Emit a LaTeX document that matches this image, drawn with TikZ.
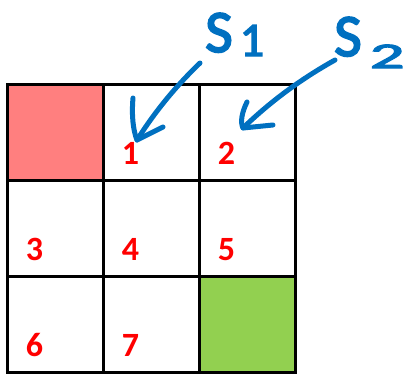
\documentclass[tikz,border=0pt]{standalone}
\usepackage{fontspec}
\setmainfont{Carlito}
\newfontfamily\handfont[FakeBold=3]{Carlito}
\definecolor{cellred}{RGB}{255,127,127}
\definecolor{cellgreen}{RGB}{146,208,80}
\definecolor{ink}{RGB}{0,112,192}

\begin{document}
\begin{tikzpicture}[x=1pt, y=-1pt,
  cell/.style={draw, line width=3pt, minimum size=96pt, inner sep=0pt},
  num/.style={text=red, font=\fontsize{34}{34}\selectfont\bfseries, inner sep=0pt},
  hand/.style={text=ink, font=\handfont\fontsize{60}{60}\selectfont, inner sep=0pt, anchor=base west},
  ink line/.style={draw=ink, line width=5pt, line cap=round, line join=round}]
\useasboundingbox (0,0) rectangle (410,375);
% grid
\node[cell, fill=cellred] (c0) at (55.5,132.5) {};
\node[cell] (c1) at (151.5,132.5) {};
\node[cell] (c2) at (247.5,132.5) {};
\node[cell] (c3) at (55.5,228.5) {};
\node[cell] (c4) at (151.5,228.5) {};
\node[cell] (c5) at (247.5,228.5) {};
\node[cell] (c6) at (55.5,324.5) {};
\node[cell] (c7) at (151.5,324.5) {};
\node[cell, fill=cellgreen] (c8) at (247.5,324.5) {};
% numbers
\node[num] (n1) at (130.5,153.5) {1};
\node[num] (n2) at (226.5,153.5) {2};
\node[num] (n3) at (34.5,249.5) {3};
\node[num] (n4) at (130.5,249.5) {4};
\node[num] (n5) at (226.5,249.5) {5};
\node[num] (n6) at (34.5,345.5) {6};
\node[num] (n7) at (130.5,345.5) {7};
% handwritten labels
\node[hand] (s1) at (205,52) {S\hspace{7pt}\raisebox{-4pt}{\fontsize{48}{48}\selectfont 1}};
\node[hand] (s2) at (334,56) {S\hspace{8pt}\raisebox{-12pt}{\scalebox{1.9}[1]{\fontsize{36}{36}\selectfont 2}}};
\coordinate (t1) at (200,63);
\coordinate (h1) at (137,140);
\coordinate (t2) at (335,60);
\coordinate (h2) at (243,128);
\draw[ink line] (t1) .. controls (176,86) and (155,111.5) .. (h1);
\draw[ink line] ([shift={(-4,-42)}]h1) .. controls ([shift={(-5.5,-25)}]h1) and ([shift={(-4,-10)}]h1) .. (h1) -- ([shift={(26,-13)}]h1);
\draw[ink line] (t2) .. controls (301,79) and (271,101) .. (h2);
\draw[ink line] ([shift={(4,-26)}]h2) .. controls ([shift={(-1,-16)}]h2) and ([shift={(-3,-6)}]h2) .. (h2) -- ([shift={(30,-3)}]h2);
\end{tikzpicture}
\end{document}
